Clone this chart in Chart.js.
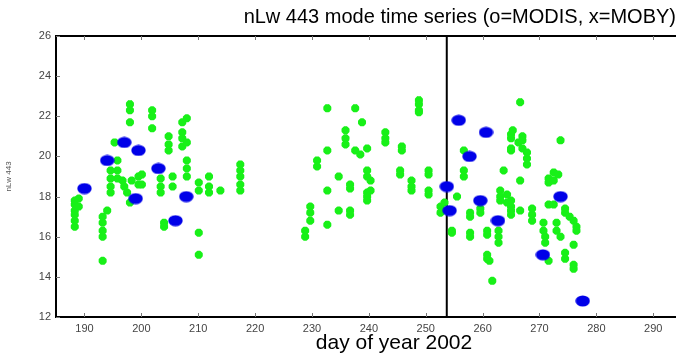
<!DOCTYPE html>
<html>
<head>
<meta charset="utf-8">
<script src="https://cdn.jsdelivr.net/npm/chart.js@4"></script>
<style>
  html, body { margin: 0; padding: 0; background: #fff; overflow: hidden; }
  #wrap { position: relative; width: 676px; height: 355px; }
</style>
</head>
<body>
<div id="wrap"><canvas id="chartSeries"></canvas></div>
<script>
// MOBY (x) - green markers
const mobyDays = [
  188.3, 188.3, 188.3, 188.3, 188.3, 188.3, 189.0, 189.0,
  193.2, 193.2, 193.2, 193.2, 193.2, 194.0,
  195.3, 195.8, 195.8, 195.8, 194.6, 194.6, 194.6, 194.6, 196.7,
  198.0, 198.0, 198.0, 198.3, 197.0, 197.5, 198.0,
  199.5, 199.5, 200.1, 200.1,
  201.9, 201.9, 201.9,
  203.4, 203.4, 203.4, 204.0, 204.0,
  204.8, 204.8, 204.8, 205.5, 205.5,
  207.2, 207.2, 207.2, 207.2, 208.0, 208.0, 208.0, 208.0, 208.0,
  210.1, 210.1, 210.1, 210.1, 211.9, 211.9, 211.9, 213.9,
  217.4, 217.4, 217.4, 217.4, 217.4,
  228.8, 228.8, 229.7, 229.7, 229.7, 230.9, 230.9,
  232.7, 232.7, 232.7, 232.7, 234.7, 234.7,
  235.9, 235.9, 235.9, 236.7, 236.7, 236.7, 236.7,
  237.6, 237.6, 238.5, 238.8,
  239.7, 239.7, 239.7, 239.7, 239.7, 239.7, 240.3, 240.3,
  242.9, 242.9, 242.9, 245.5, 245.5, 245.8, 245.8,
  247.5, 247.5, 247.5, 248.8, 248.8, 248.8, 248.8,
  250.5, 250.5, 250.5, 250.5, 252.6, 252.6, 253.3,
  254.6, 254.6, 255.5,
  256.7, 256.7, 256.7, 257.8, 257.8, 257.8, 257.8,
  259.6, 259.6, 260.8, 260.8, 260.8, 260.8, 261.2, 261.7,
  262.8, 262.8, 262.8, 263.1, 263.1, 263.1, 263.7, 264.3, 264.3,
  265.0, 265.0, 265.0, 265.0, 265.0, 265.0, 265.0, 265.0, 265.3,
  266.3, 266.6, 266.6, 266.6, 267.0, 267.0, 267.0, 267.8, 267.8, 267.8,
  268.7, 268.7, 268.7, 270.7, 270.7, 271.0, 271.0,
  271.6, 271.6, 271.6, 271.6, 272.5, 272.5, 272.5,
  273.0, 273.0, 273.3, 273.7, 273.7,
  274.5, 274.5, 274.5, 274.5, 275.3, 276.0, 276.0, 276.0, 276.0, 276.5, 276.5
]
const mobyNlw = [
  16.5, 16.8, 17.1, 17.3, 17.6, 17.8, 17.5, 17.9,
  14.8, 16.0, 16.3, 16.7, 17.0, 17.3,
  20.7, 19.8, 19.3, 18.9, 19.3, 18.9, 18.5, 18.2, 18.8,
  22.6, 22.3, 21.7, 18.8, 18.5, 18.2, 17.7,
  18.6, 19.0, 19.1, 18.6,
  22.3, 22.0, 21.4,
  18.9, 18.5, 18.2, 16.7, 16.5,
  21.0, 20.6, 20.3, 19.0, 18.5,
  21.7, 21.2, 20.9, 20.5, 21.9, 20.7, 19.8, 19.4, 19.0,
  18.7, 18.3, 16.2, 15.1, 19.0, 18.5, 18.2, 18.3,
  19.6, 19.3, 19.0, 18.6, 18.3,
  16.3, 16.0, 17.5, 17.2, 16.8, 19.8, 19.5,
  22.4, 20.3, 18.3, 16.6, 19.0, 17.3,
  21.3, 20.9, 20.6, 18.6, 18.4, 17.3, 17.1,
  22.4, 20.3, 20.1, 21.7,
  20.4, 19.3, 19.0, 18.2, 18.0, 17.8, 18.8, 18.3,
  21.2, 20.9, 20.7, 19.3, 19.1, 20.5, 20.3,
  18.8, 18.5, 18.3, 22.8, 22.6, 22.3, 22.2,
  19.3, 19.1, 18.3, 18.1, 17.5, 17.2, 17.7,
  16.3, 16.2, 18.0,
  20.3, 19.3, 19.0, 17.2, 17.0, 16.2, 16.0,
  17.4, 17.2, 16.3, 16.1, 15.1, 14.9, 14.8, 13.8,
  16.3, 16.0, 15.7, 18.3, 18.0, 17.8, 19.3, 18.1, 17.7,
  21.1, 20.9, 20.4, 20.3, 17.8, 17.5, 17.3, 17.1, 21.3,
  20.7, 22.7, 18.8, 17.3, 21.0, 20.8, 20.4, 20.2, 19.9, 19.6,
  17.4, 17.1, 16.8, 16.7, 16.3, 16.0, 15.7,
  18.9, 18.7, 17.6, 14.8, 19.2, 18.8, 17.6,
  16.7, 16.3, 19.1, 20.8, 16.0,
  17.4, 17.2, 15.2, 14.9, 17.0, 16.8, 15.6, 14.6, 14.4, 16.5, 16.3
]

// MODIS (o) - blue markers
const modisDays = [190.0, 194.0, 197.0, 199.5, 199.0, 203.0, 206.0, 207.9,
  253.7, 254.2, 255.8, 257.7, 259.6, 260.6, 262.7, 270.6, 273.7, 277.6]
const modisNlw = [18.4, 19.8, 20.7, 20.3, 17.9, 19.4, 16.8, 18.0,
  18.5, 17.3, 21.8, 20.0, 17.8, 21.2, 16.8, 15.1, 18.0, 12.8]

// vertical marker line (day)
const markerDay = 253.7

const xMin = 185, xMax = 294, xStep = 10
const yMin = 12, yMax = 26, yStep = 2

const toPoints = (xs, ys) => xs.map((x, i) => ({ x, y: ys[i] }))

// blue ellipse marker
const ellipse = document.createElement('canvas')
ellipse.width = 15
ellipse.height = 12
const ectx = ellipse.getContext('2d')
ectx.fillStyle = '#0000e8'
ectx.beginPath()
ectx.ellipse(7.5, 6, 7.2, 5.6, 0, 0, Math.PI * 2)
ectx.fill()

// frame on top + inner tick marks + x title
const framePlugin = {
    id: 'frame',
    afterDraw(chart) {
        const { ctx, chartArea: a, scales } = chart
        ctx.save()
        ctx.strokeStyle = '#000'
        ctx.lineWidth = 2
        ctx.beginPath()
        ctx.moveTo(a.left, a.top)
        ctx.lineTo(a.right, a.top)
        ctx.stroke()

        ctx.strokeStyle = '#777'
        ctx.lineWidth = 1
        ctx.beginPath()
        scales.x.ticks.forEach(t => {
            const px = Math.round(scales.x.getPixelForValue(t.value)) + 0.5
            ctx.moveTo(px, a.bottom); ctx.lineTo(px, a.bottom - 4)
            ctx.moveTo(px, a.top); ctx.lineTo(px, a.top + 4)
        })
        scales.y.ticks.forEach(t => {
            const py = Math.round(scales.y.getPixelForValue(t.value)) + 0.5
            ctx.moveTo(a.left, py); ctx.lineTo(a.left + 4, py)
        })
        ctx.stroke()

        ctx.fillStyle = '#000'
        ctx.font = '21px "Liberation Sans", Arial, sans-serif'
        ctx.textAlign = 'center'
        ctx.textBaseline = 'alphabetic'
        ctx.fillText('day of year 2002', 394, 349)
        ctx.restore()
    }
}

new Chart(document.getElementById('chartSeries'), {
    type: 'scatter',
    data: {
        datasets: [
            {
                label: 'MODIS',
                data: toPoints(modisDays, modisNlw),
                pointStyle: ellipse,
                order: 1
            },
            {
                label: 'MOBY',
                data: toPoints(mobyDays, mobyNlw),
                pointStyle: 'star',
                radius: 4,
                borderWidth: 3,
                borderColor: '#18f018',
                backgroundColor: '#18f018',
                order: 2
            },
            {
                label: 'marker',
                type: 'line',
                data: [{ x: markerDay, y: yMin }, { x: markerDay, y: yMax }],
                borderColor: '#000',
                borderWidth: 2,
                pointRadius: 0,
                order: 3
            }
        ]
    },
    options: {
        responsive: true,
        maintainAspectRatio: false,
        animation: false,
        layout: { padding: 0, autoPadding: false },
        scales: {
            x: {
                type: 'linear',
                min: xMin,
                max: xMax,
                afterFit: s => { s.height = 38; s.paddingLeft = 0; s.paddingRight = 0 },
                ticks: {
                    stepSize: xStep,
                    includeBounds: false,
                    padding: 5,
                    color: '#444',
                    font: { family: '"Liberation Sans", Arial, sans-serif', size: 11 }
                },
                grid: { display: false, drawTicks: false },
                border: { display: true, color: '#000', width: 2 }
            },
            y: {
                min: yMin,
                max: yMax,
                afterFit: s => { s.width = 56 },
                ticks: {
                    stepSize: yStep,
                    padding: 5,
                    color: '#444',
                    font: { family: '"Liberation Sans", Arial, sans-serif', size: 11 }
                },
                grid: { display: false, drawTicks: false },
                border: { display: true, color: '#000', width: 2 },
                title: {
                    display: true,
                    text: 'nLw 443',
                    color: '#555',
                    padding: { top: 4, bottom: 0 },
                    font: { family: '"Liberation Sans", Arial, sans-serif', size: 8 }
                }
            }
        },
        plugins: {
            legend: { display: false },
            tooltip: { enabled: false },
            title: {
                display: true,
                text: 'nLw 443 mode time series (o=MODIS, x=MOBY)',
                align: 'end',
                color: '#000',
                padding: { top: 5, bottom: 7 },
                font: { family: '"Liberation Sans", Arial, sans-serif', size: 20, weight: 'normal', lineHeight: 1.2 }
            }
        }
    },
    plugins: [framePlugin]
})
</script>
</body>
</html>
